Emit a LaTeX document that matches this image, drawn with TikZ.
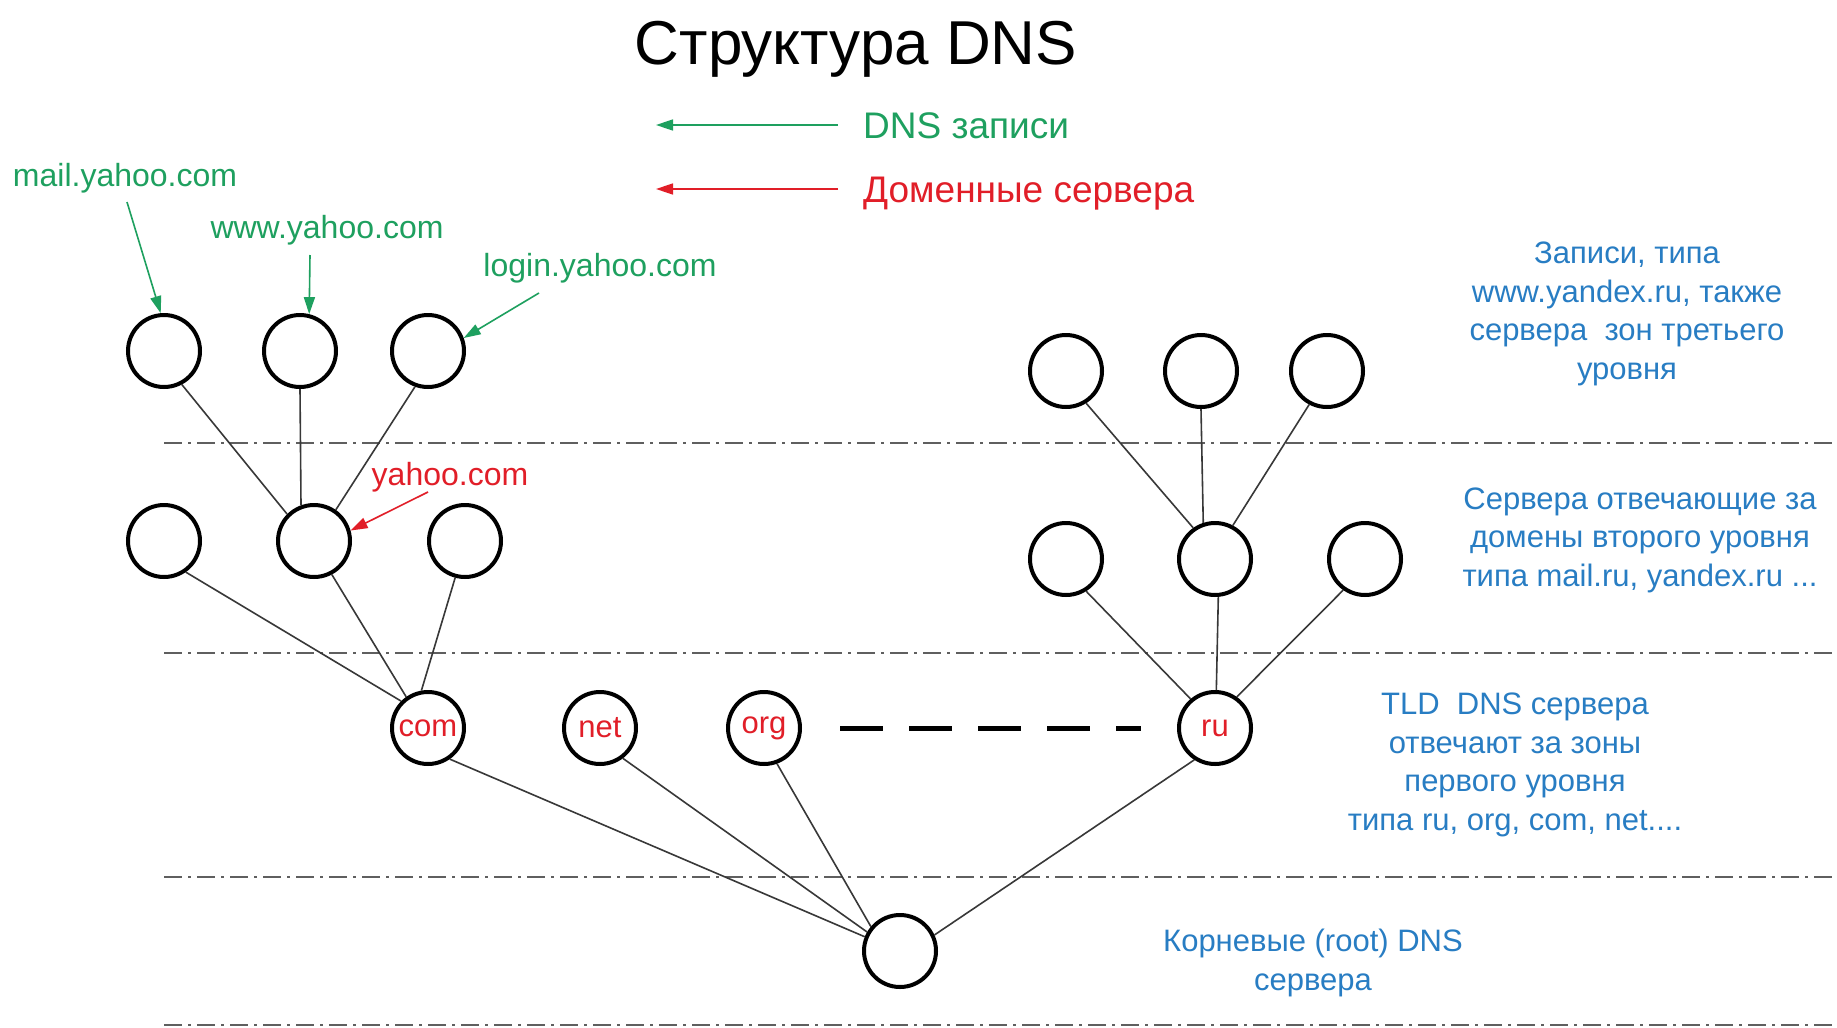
\documentclass[tikz,border=0pt]{standalone}
\usepackage{fontspec}
\setmainfont{Liberation Sans}
\usetikzlibrary{arrows.meta}
\definecolor{recgreen}{RGB}{30,160,95}
\definecolor{srvred}{RGB}{225,30,40}
\definecolor{noteblue}{RGB}{40,125,195}
\definecolor{zonegray}{RGB}{95,95,95}

\begin{document}
\begin{tikzpicture}[x=1pt,y=-1pt,
  srv/.style={circle,draw=black,line width=4pt,minimum size=72pt,inner sep=0pt,
    font=\fontsize{31}{31}\selectfont,text=srvred},
  link/.style={draw=black!78,line width=1.6pt},
  zone/.style={draw=zonegray,line width=2pt,dash pattern=on 18pt off 6pt on 3pt off 6pt},
  recarrow/.style={draw=recgreen,line width=1.6pt,-{Triangle[length=17pt,width=11pt]}},
  srvarrow/.style={draw=srvred,line width=1.6pt,-{Triangle[length=17pt,width=11pt]}},
  rec/.style={text=recgreen,font=\fontsize{32}{32}\selectfont,inner sep=0pt,anchor=base},
  legtext/.style={font=\fontsize{37}{37}\selectfont,inner sep=0pt,anchor=base west},
  note/.style={text=noteblue,font=\fontsize{31}{38.5}\selectfont,align=center,inner sep=0pt}
]
\useasboundingbox[fill=white] (0,0) rectangle (1837,1028);

% title and legend
\node[font=\fontsize{62}{62}\selectfont,anchor=base,inner sep=0pt] (title) at (856,64) {Структура DNS};
\node[legtext,text=recgreen] (legrec) at (863,138) {DNS записи};
\node[legtext,text=srvred] (legsrv) at (863,202) {Доменные сервера};
\coordinate (legrecA) at (838,125);
\coordinate (legrecB) at (656,125);
\coordinate (legsrvA) at (838,189);
\coordinate (legsrvB) at (656,189);
\draw[recarrow] (legrecA) -- (legrecB);
\draw[srvarrow] (legsrvA) -- (legsrvB);

% zone boundaries
\coordinate (z1a) at (164,443);  \coordinate (z1b) at (1837,443);
\coordinate (z2a) at (164,653);  \coordinate (z2b) at (1837,653);
\coordinate (z3a) at (164,877);  \coordinate (z3b) at (1837,877);
\coordinate (z4a) at (164,1025); \coordinate (z4b) at (1837,1025);
\draw[zone] (z1a) -- (z1b);
\draw[zone] (z2a) -- (z2b);
\draw[zone] (z3a) -- (z3b);
\draw[zone] (z4a) -- (z4b);

% third level (records)
\node[srv] (l3a) at (164,351) {};
\node[srv] (l3b) at (300,351) {};
\node[srv] (l3c) at (428,351) {};
\node[srv] (r3a) at (1066,371) {};
\node[srv] (r3b) at (1201,371) {};
\node[srv] (r3c) at (1327,371) {};

% second level
\node[srv] (l2a) at (164,541) {};
\node[srv] (l2b) at (314,541) {};
\node[srv] (l2c) at (465,541) {};
\node[srv] (r2a) at (1066,559) {};
\node[srv] (r2b) at (1215,559) {};
\node[srv] (r2c) at (1365,559) {};

% top level domains
\node[srv] (com) at (428,728) {com};
\node[srv] (net) at (600,728) {net};
\node[srv] (org) at (764,728) {org};
\node[srv] (ru)  at (1215,728) {ru};

% root
\node[srv] (root) at (900,951) {};

% tree links
\draw[link] (l3a.-62) -- (l2b.135);
\draw[link] (l3b.-90) -- (l2b.110);
\draw[link] (l3c.-110) -- (l2b.55);
\draw[link] (r3a.-58) -- (r2b.125);
\draw[link] (r3b.-90) -- (r2b.108);
\draw[link] (r3c.-118) -- (r2b.62);
\draw[link] (l2a.-55) -- (com.135);
\draw[link] (l2b.-62) -- (com.125);
\draw[link] (l2c.-105) -- (com.100);
\draw[link] (r2a.-58) -- (ru.130);
\draw[link] (r2b.-85) -- (ru.88);
\draw[link] (r2c.-125) -- (ru.55);
\draw[link] (com.-55) -- (root.158);
\draw[link] (net.-53) -- (root.150);
\draw[link] (org.-70) -- (root.140);
\draw[link] (ru.-123) -- (root.25);

% other top level domains
\draw[line width=5pt,dash pattern=on 43pt off 26pt,shorten <=38pt,shorten >=36pt] (org) -- (ru);

% record labels
\node[rec] (mail) at (125,186) {mail.yahoo.com};
\node[rec] (www) at (327,238) {www.yahoo.com};
\node[rec] (login) at (600,276) {login.yahoo.com};
\coordinate (mailT) at (127,202);
\coordinate (wwwT) at (310,255);
\coordinate (loginT) at (539,293);
\draw[recarrow] (mailT) -- (l3a.95);
\draw[recarrow] (wwwT) -- (l3b.76);
\draw[recarrow] (loginT) -- (l3c.20);

\node[rec,text=srvred] (yahoo) at (450,485) {yahoo.com};
\coordinate (yahooT) at (428,492);
\draw[srvarrow] (yahooT) -- (l2b.16);

% level descriptions
\node[note] (n3) at (1627,314) {Записи, типа\\www.yandex.ru, также\\сервера\ \ зон третьего\\уровня};
\node[note] (n2) at (1640,540) {Сервера отвечающие за\\домены второго уровня\\типа mail.ru, yandex.ru ...};
\node[note] (n1) at (1515,765) {TLD\ \ DNS сервера\\отвечают за зоны\\первого уровня\\типа ru, org, com, net....};
\node[note] (n0) at (1313,963) {Корневые (root) DNS\\сервера};
\end{tikzpicture}
\end{document}
